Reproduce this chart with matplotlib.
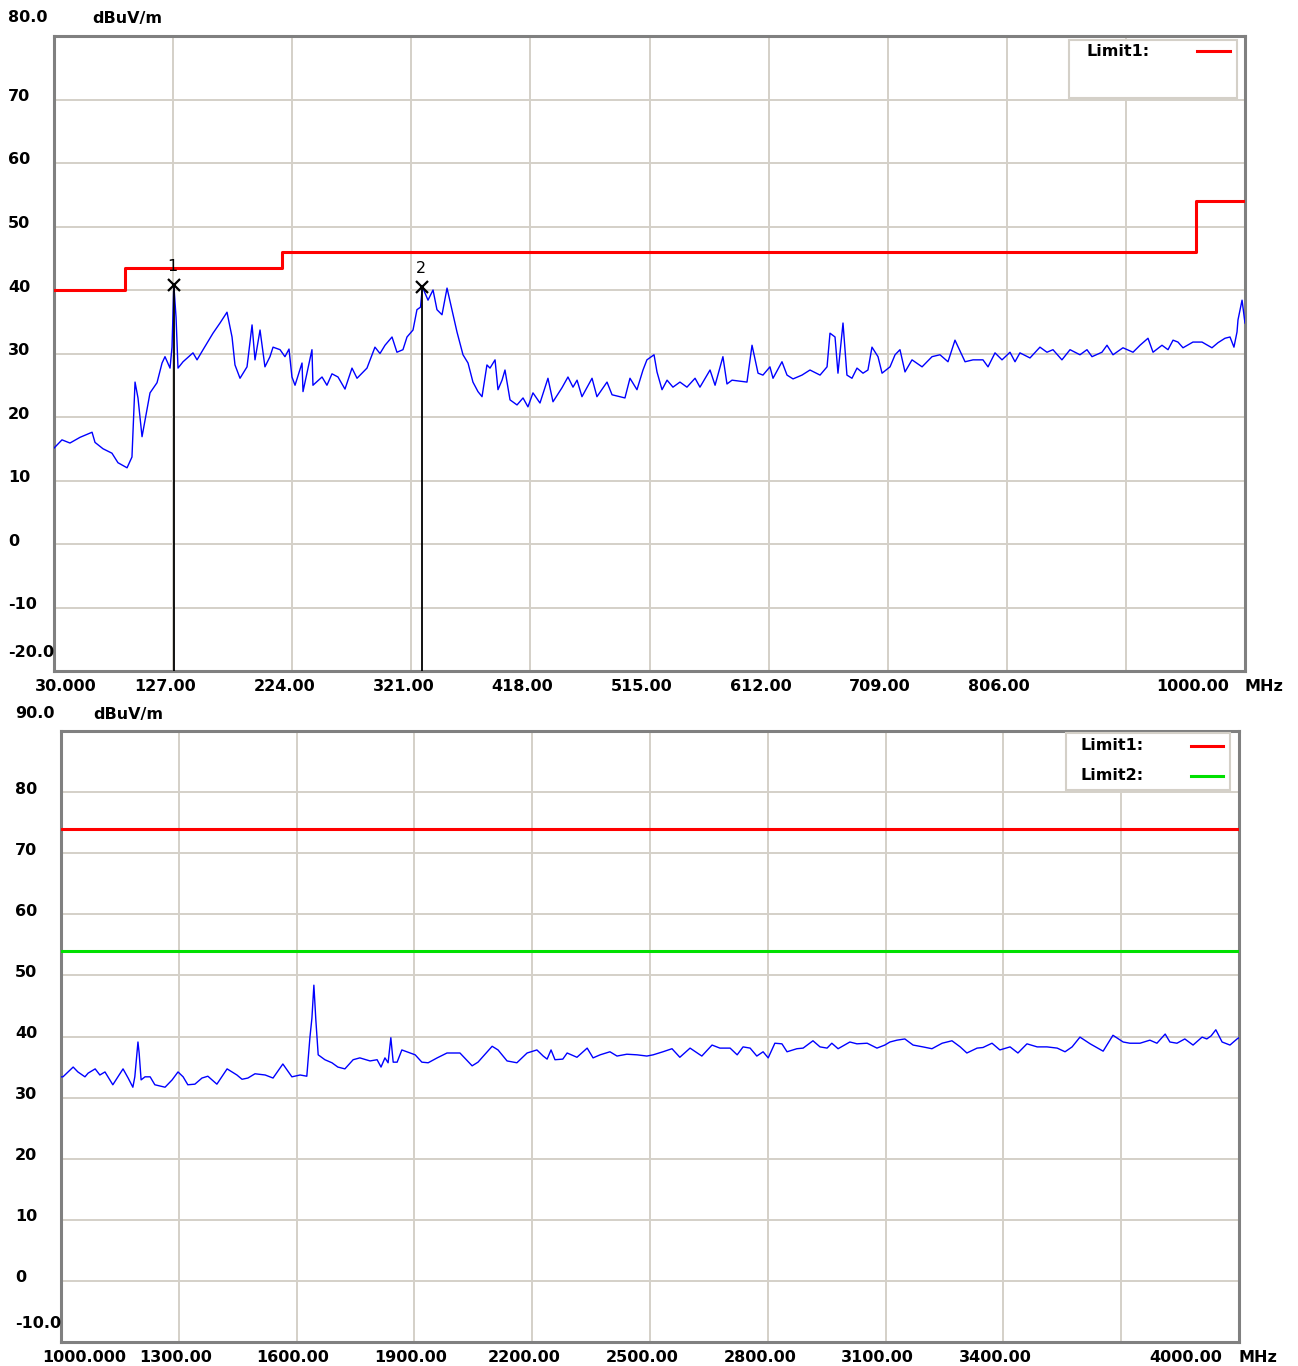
import numpy as np
import matplotlib
matplotlib.use("Agg")
import matplotlib.pyplot as plt
from matplotlib.patches import Rectangle

# ---- datos panel superior (30 - 1000 MHz) ----
top_freq = [30, 36.5, 43, 51.2, 61, 63.4, 69.9, 77.2, 82.1, 89.5,
            93.5, 96, 98.4, 101.7, 105.7, 108.2, 113.9, 118, 120.4, 124.5,
            126.1, 127.6, 129.4, 131, 135.1, 143.2, 146.5, 151.4, 159.5, 165.2,
            170.9, 175, 177.4, 181.5, 187.2, 191.3, 193.7, 197.8, 201.8, 205.9,
            208.4, 214.1, 218.1, 221.4, 223.8, 226.3, 232, 232.8, 240.1, 240.9,
            248.3, 252.3, 256.4, 261.3, 267, 272.7, 276.8, 284.9, 289, 291.4,
            295.5, 299.6, 305.3, 309.3, 314.2, 317.5, 322.4, 325.6, 328.5, 330,
            334.6, 338.7, 341.9, 346, 350.1, 354.1, 358.2, 363.1, 367.2, 371.2,
            375.3, 378.6, 382.6, 385.1, 389.2, 391.6, 394.9, 397.3, 401.4, 407.1,
            412, 416, 420.1, 425.8, 432.3, 436.4, 443.7, 448.6, 452.7, 456,
            460, 468.2, 472.2, 480.4, 484.5, 495, 499.1, 504.8, 509.7, 512.9,
            518.7, 521.1, 525.2, 529.3, 534.1, 539.8, 545.5, 552.1, 556.1, 564.3,
            568.4, 574.8, 578.1, 582.2, 594.4, 598.5, 603.4, 607.4, 613.1, 615.6,
            622.9, 627, 631.9, 639.2, 645.7, 653.9, 659.6, 662, 666.1, 668.5,
            672.6, 675.8, 679.9, 684, 688.9, 692.9, 696.2, 701.1, 704.4, 710.9,
            715, 719, 723.1, 728.8, 737, 745.1, 751.6, 758.1, 763.8, 772,
            778.5, 786.6, 790.7, 796.4, 802.1, 808.6, 812.7, 816.7, 824.9, 833,
            838.7, 843.6, 850.9, 857.5, 865.6, 871.3, 875.4, 883.5, 887.6, 892.5,
            900.6, 908.8, 914.5, 921, 925.1, 932.4, 937.3, 941.4, 945.4, 949.5,
            957.6, 965, 973.1, 978, 983.7, 987.8, 991, 993.5, 994.3, 997.6, 1000]
top_level = [15.1, 16.4, 15.9, 16.8, 17.6, 16.0, 15.0, 14.3, 12.8, 12.0,
             13.7, 25.5, 23.0, 16.9, 21.1, 23.8, 25.4, 28.5, 29.5, 27.7,
             31.0, 40.8, 35.7, 27.7, 28.7, 30.1, 29.0, 30.6, 33.2, 34.8,
             36.5, 32.6, 28.2, 26.1, 27.9, 34.5, 29.0, 33.7, 27.9, 29.5,
             31.0, 30.6, 29.5, 30.7, 26.3, 25.0, 28.5, 24.0, 30.6, 25.0,
             26.3, 25.0, 26.8, 26.3, 24.4, 27.7, 26.1, 27.7, 29.8, 31.0,
             30.0, 31.3, 32.6, 30.2, 30.6, 32.6, 33.7, 36.9, 37.3, 40.5,
             38.4, 40.0, 36.9, 36.1, 40.3, 36.9, 33.4, 29.8, 28.5, 25.5,
             24.0, 23.2, 28.2, 27.7, 29.0, 24.3, 25.8, 27.4, 22.7, 21.9,
             23.0, 21.6, 23.8, 22.2, 26.1, 22.4, 24.6, 26.3, 24.7, 25.8,
             23.2, 26.1, 23.2, 25.5, 23.5, 23.0, 26.1, 24.3, 27.4, 29.0,
             29.8, 27.1, 24.3, 25.8, 24.7, 25.5, 24.7, 26.1, 24.7, 27.4,
             25.0, 29.5, 25.2, 25.8, 25.5, 31.3, 26.9, 26.6, 27.9, 26.1,
             28.7, 26.6, 26.0, 26.6, 27.4, 26.6, 27.9, 33.2, 32.6, 26.9,
             34.8, 26.6, 26.1, 27.7, 26.9, 27.4, 31.0, 29.5, 26.9, 27.9,
             29.8, 30.6, 27.1, 29.0, 27.9, 29.5, 29.8, 28.7, 32.1, 28.7,
             29.0, 29.0, 27.9, 30.1, 29.0, 30.2, 28.7, 30.1, 29.3, 31.0,
             30.2, 30.6, 29.0, 30.6, 29.8, 30.6, 29.5, 30.2, 31.3, 29.8,
             30.9, 30.2, 31.3, 32.4, 30.2, 31.3, 30.6, 32.1, 31.8, 30.9,
             31.8, 31.8, 30.9, 31.7, 32.4, 32.6, 31.0, 33.4, 35.3, 38.4, 34.8]

top_limit_freq = [30, 88, 216, 960, 1000]
top_limit_level = [40, 43.5, 46, 54, 54]

marker_freq = [127.6, 330.0]
marker_level = [40.8, 40.5]
marker_names = ["1", "2"]

top_xticks = [30, 127, 224, 321, 418, 515, 612, 709, 806, 903, 1000]
top_xlabels = ["30.000", "127.00", "224.00", "321.00", "418.00", "515.00",
               "612.00", "709.00", "806.00", "", "1000.00"]
top_yticks = list(range(-20, 81, 10))
top_ylabels = ["-20.0", "-10", "0", "10", "20", "30", "40", "50", "60", "70", "80.0"]

# ---- datos panel inferior (1 - 4 GHz) ----
bot_freq = [1000, 1005, 1031, 1043, 1061, 1069, 1087, 1099, 1112, 1132,
            1145, 1158, 1171, 1183, 1188, 1196, 1199, 1204, 1214, 1227,
            1239, 1265, 1283, 1298, 1311, 1323, 1341, 1359, 1374, 1397,
            1423, 1448, 1461, 1476, 1494, 1520, 1540, 1565, 1588, 1609,
            1626, 1634, 1639, 1644, 1649, 1655, 1672, 1690, 1705, 1723,
            1744, 1761, 1787, 1805, 1815, 1825, 1833, 1840, 1846, 1856,
            1868, 1881, 1902, 1919, 1935, 1958, 1983, 2016, 2047, 2062,
            2098, 2113, 2136, 2161, 2187, 2212, 2228, 2238, 2248, 2258,
            2278, 2289, 2314, 2340, 2355, 2373, 2398, 2416, 2441, 2467,
            2492, 2508, 2533, 2556, 2576, 2602, 2632, 2658, 2678, 2704,
            2722, 2737, 2755, 2772, 2788, 2801, 2818, 2836, 2849, 2874,
            2890, 2915, 2933, 2951, 2963, 2979, 3009, 3027, 3053, 3078,
            3098, 3111, 3129, 3149, 3170, 3195, 3218, 3244, 3269, 3290,
            3307, 3333, 3348, 3371, 3391, 3417, 3437, 3460, 3486, 3511,
            3537, 3557, 3575, 3595, 3621, 3654, 3679, 3705, 3722, 3748,
            3773, 3791, 3812, 3824, 3842, 3862, 3883, 3906, 3918, 3929,
            3941, 3957, 3977, 3995, 4000]
bot_level = [33.4, 33.4, 35.0, 34.2, 33.4, 34.0, 34.7, 33.7, 34.2, 32.1,
             33.4, 34.7, 33.2, 31.7, 33.4, 39.1, 37.3, 32.9, 33.4, 33.4,
             32.1, 31.7, 32.9, 34.2, 33.4, 32.1, 32.2, 33.2, 33.5, 32.2,
             34.7, 33.7, 33.0, 33.2, 33.9, 33.7, 33.2, 35.5, 33.4, 33.7,
             33.5, 39.9, 43.0, 48.4, 42.7, 37.0, 36.2, 35.7, 35.0, 34.7,
             36.2, 36.5, 36.0, 36.2, 35.0, 36.5, 35.7, 39.8, 35.8, 35.8,
             37.8, 37.5, 37.0, 35.8, 35.7, 36.5, 37.3, 37.3, 35.2, 35.8,
             38.4, 37.8, 36.0, 35.7, 37.3, 37.8, 36.8, 36.3, 37.8, 36.2,
             36.3, 37.3, 36.6, 38.1, 36.5, 37.0, 37.5, 36.8, 37.1, 37.0,
             36.8, 37.0, 37.5, 38.0, 36.6, 38.1, 36.8, 38.6, 38.1, 38.1,
             37.0, 38.3, 38.1, 36.8, 37.5, 36.5, 38.9, 38.8, 37.5, 38.0,
             38.1, 39.3, 38.3, 38.1, 38.9, 38.0, 39.1, 38.8, 38.9, 38.1,
             38.6, 39.1, 39.4, 39.6, 38.6, 38.3, 38.0, 38.9, 39.3, 38.3,
             37.3, 38.1, 38.2, 38.9, 37.8, 38.3, 37.3, 38.8, 38.3, 38.3,
             38.1, 37.5, 38.3, 39.9, 38.8, 37.6, 40.2, 39.1, 38.9, 38.9,
             39.4, 38.9, 40.4, 39.1, 38.9, 39.6, 38.6, 39.9, 39.6, 40.1,
             41.1, 39.1, 38.6, 39.6, 39.8]

bot_limit_freq = [1000, 4000]
bot_limit1 = [74, 74]
bot_limit2 = [54, 54]

bot_xticks = [1000, 1300, 1600, 1900, 2200, 2500, 2800, 3100, 3400, 3700, 4000]
bot_xlabels = ["1000.000", "1300.00", "1600.00", "1900.00", "2200.00", "2500.00",
               "2800.00", "3100.00", "3400.00", "", "4000.00"]
bot_yticks = list(range(-10, 91, 10))
bot_ylabels = ["-10.0", "0", "10", "20", "30", "40", "50", "60", "70", "80", "90.0"]

assert len(top_freq) == len(top_level)
assert len(bot_freq) == len(bot_level)

GRID = "#d4d0c8"
FRAME = "#808080"
FONT = dict(family="DejaVu Sans", weight="bold", size=11.5)

W, H = 1298, 1366
fig = plt.figure(figsize=(W / 100, H / 100), dpi=100)
ax1 = fig.add_axes([54 / W, 1 - 671 / H, (1245 - 54) / W, (671 - 36) / H])
ax2 = fig.add_axes([61 / W, 1 - 1342 / H, (1239 - 61) / W, (1342 - 731) / H])


def estilo(ax, xticks, yticks, xlim, ylim):
    ax.set_xlim(*xlim)
    ax.set_ylim(*ylim)
    ax.set_xticks(xticks)
    ax.set_yticks(yticks)
    ax.set_xticklabels([])
    ax.set_yticklabels([])
    ax.tick_params(length=0)
    ax.grid(True, color=GRID, linewidth=1.4, zorder=0)
    ax.set_axisbelow(True)
    for s in ax.spines.values():
        s.set_color(FRAME)
        s.set_linewidth(2.2)


def etiquetas(ax, xticks, xlabels, yticks, ylabels, xoffs, yoffs):
    # etiquetas eje y, alineadas a la izquierda
    for v, lab in zip(yticks, ylabels):
        dy = yoffs.get(lab, 3)
        ax.annotate(lab, xy=(0, v), xycoords=ax.get_yaxis_transform(),
                    xytext=(-46, dy), textcoords="offset pixels",
                    ha="left", va="center", annotation_clip=False, **FONT)
    # etiquetas eje x
    for v, lab in zip(xticks, xlabels):
        if not lab:
            continue
        dx = xoffs.get(lab, -8)
        ax.annotate(lab, xy=(v, 0), xycoords=ax.get_xaxis_transform(),
                    xytext=(dx, -15), textcoords="offset pixels",
                    ha="center", va="center", annotation_clip=False, **FONT)
    ax.annotate("MHz", xy=(1, 0), xycoords="axes fraction", xytext=(0, -15),
                textcoords="offset pixels", ha="left", va="center", **FONT)


def leyenda(ax, x0, x1, y0, y1, items):
    # recuadro de leyenda en pixeles de figura
    ax_bb = ax.get_position()
    def fx(px):
        return (px / W - ax_bb.x0) / ax_bb.width
    def fy(py):
        return ((1 - py / H) - ax_bb.y0) / ax_bb.height
    ax.add_patch(Rectangle((fx(x0), fy(y1)), fx(x1) - fx(x0), fy(y0) - fy(y1),
                           transform=ax.transAxes, facecolor="white",
                           edgecolor=GRID, linewidth=1.5, zorder=5))
    for name, color, ty, tx, lx0, lx1 in items:
        ax.text(fx(tx), fy(ty), name, transform=ax.transAxes, ha="left",
                va="center", zorder=6, **FONT)
        ax.plot([fx(lx0), fx(lx1)], [fy(ty), fy(ty)], transform=ax.transAxes,
                color=color, linewidth=2.2, zorder=6)


# ---- panel superior ----
estilo(ax1, top_xticks, top_yticks, (30, 1000), (-20, 80))
ax1.step(top_limit_freq, top_limit_level, where="post", color="#ff0000",
         linewidth=2.2, zorder=3)
ax1.plot(top_freq, top_level, color="#0000ff", linewidth=1.0, zorder=4)
ax1.vlines(marker_freq, -20, marker_level, color="black", linewidth=1.3, zorder=4)
ax1.plot(marker_freq, marker_level, linestyle="none", marker="x", color="black",
         markersize=9, markeredgewidth=1.6, zorder=5)
for f, v, n in zip(marker_freq, marker_level, marker_names):
    ax1.annotate(n, xy=(f, v), xytext=(-1, 18), textcoords="offset pixels",
                 ha="center", va="center", fontsize=11.5, family="DejaVu Sans")
etiquetas(ax1, top_xticks, top_xlabels, top_yticks, top_ylabels,
          {"30.000": 12, "1000.00": -52}, {"80.0": 18, "-20.0": 19})
ax1.annotate("dBuV/m", xy=(0, 1), xycoords="axes fraction", xytext=(38, 18),
             textcoords="offset pixels", ha="left", va="center", **FONT)
leyenda(ax1, 1069, 1237, 40, 98, [("Limit1:", "#ff0000", 51, 1086, 1197, 1230)])

# ---- panel inferior ----
estilo(ax2, bot_xticks, bot_yticks, (1000, 4000), (-10, 90))
ax2.plot(bot_limit_freq, bot_limit1, color="#ff0000", linewidth=2.2, zorder=3)
ax2.plot(bot_limit_freq, bot_limit2, color="#00e000", linewidth=2.2, zorder=3)
ax2.plot(bot_freq, bot_level, color="#0000ff", linewidth=1.0, zorder=4)
etiquetas(ax2, bot_xticks, bot_xlabels, bot_yticks, bot_ylabels,
          {"1000.000": 23, "4000.00": -53, "1300.00": -3, "1600.00": -4,
           "1900.00": -4}, {"90.0": 17, "-10.0": 18})
ax2.annotate("dBuV/m", xy=(0, 1), xycoords="axes fraction", xytext=(32, 17),
             textcoords="offset pixels", ha="left", va="center", **FONT)
leyenda(ax2, 1066, 1230, 733, 790,
        [("Limit1:", "#ff0000", 746, 1081, 1191, 1223),
         ("Limit2:", "#00e000", 776, 1081, 1191, 1223)])

fig.savefig("out.png", dpi=100, facecolor="white")
